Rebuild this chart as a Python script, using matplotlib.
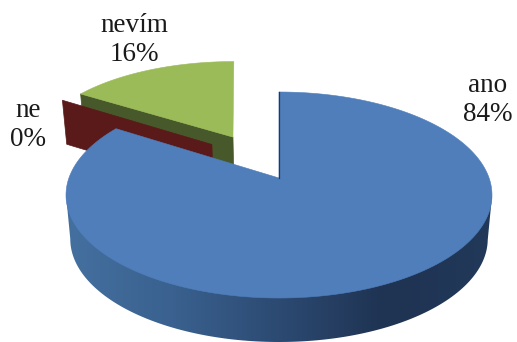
import numpy as np
import matplotlib
matplotlib.use("Agg")
import matplotlib.pyplot as plt
from matplotlib.colors import LinearSegmentedColormap
from matplotlib.patches import Polygon

categories = ["ano", "ne", "nevím"]
values = [84, 0, 16]

top_colors = ["#4f7ebb", "#5a1a1a", "#9bbb59"]
side_colors = ["#2f5078", "#5a1a1a", "#47592a"]
# Slice shift inside the pie plane, in radius units
offsets = [(0.0, 0.0), (-0.338, 0.354), (-0.235, 0.438)]
# Horizontal lean of each slice, pixels per pixel of height above its apex
leans = [0.0, 0.0, 0.07]
label_pos = {"ano": (488, 100), "ne": (28, 125), "nevím": (134, 40)}

CX, CY, RX, RY = 279, 195, 213, 103
TILT = 0.165
DEPTH = 44
BOTTOM_SCALE = 0.98

side_ramp = LinearSegmentedColormap.from_list(
    "side", ["#44709f", "#3a618f", "#2c4a72", "#1f3352", "#22395a"])


def project(x, y, lower=False):
    """Perspective view of pie-plane coordinates on the figure, in pixels."""
    x, y = np.asarray(x, float), np.asarray(y, float)
    w = 1 + TILT * y
    xp = x * np.sqrt(1 - TILT ** 2) / w
    yp = (y + TILT) / w
    scale = BOTTOM_SCALE if lower else 1.0
    return CX + RX * scale * xp, CY - RY * yp + (DEPTH if lower else 0)


def rim(start, stop, n=240):
    theta = np.linspace(start, stop, max(n, 2))
    return np.sin(theta), np.cos(theta)


fig = plt.figure(figsize=(5.17, 3.42), dpi=100, facecolor="white")
ax = fig.add_axes([0, 0, 1, 1])

fractions = np.array(values, float) / sum(values)
edges = np.concatenate([[0], np.cumsum(fractions)]) * 2 * np.pi

# Back to front: nevím, ne, ano
for i in [2, 1, 0]:
    dx, dy = offsets[i]
    rx, ry = rim(edges[i], edges[i + 1], 240 if values[i] else 2)
    rx, ry = rx + dx, ry + dy
    base = 2 + (2 - i) * 3
    _, apex_y = project(dx, dy)

    def leaned(px, py):
        return px - leans[i] * (apex_y - py), py

    # Cut face running from the apex to the start of the rim
    px, py = leaned(*project([dx, rx[0]], [dy, ry[0]]))
    qx, qy = project([dx, rx[0]], [dy, ry[0]], lower=True)
    qx, _ = leaned(qx, py)
    ax.add_patch(Polygon(np.c_[np.r_[px, qx[::-1]], np.r_[py, qy[::-1]]],
                         closed=True, fc=side_colors[i], ec=side_colors[i],
                         lw=0.5, zorder=base))

    # Outer wall of the large slice, shaded from left to right
    if i == 0:
        ux, uy = project(rx, ry)
        lx, ly = project(rx, ry, lower=True)
        right, left = np.argmax(lx), np.argmin(lx)
        outline = np.c_[
            np.r_[lx[right:left + 1], ux[np.argmin(ux)], ux[np.argmax(ux)]],
            np.r_[ly[right:left + 1], uy[np.argmin(ux)], uy[np.argmax(ux)]],
        ]
        wall = Polygon(outline, closed=True, fc="none", ec="none")
        ax.add_patch(wall)
        image = ax.imshow(np.linspace(0, 1, 256)[None, :], cmap=side_ramp,
                          extent=(66, 492, 342, 0), aspect="auto",
                          zorder=base + 1)
        image.set_clip_path(wall)

    # Top surface; a zero share has none
    if values[i] > 0:
        tx, ty = leaned(*project(np.r_[dx, rx], np.r_[dy, ry]))
        ax.add_patch(Polygon(np.c_[tx, ty], closed=True, fc=top_colors[i],
                             ec=top_colors[i], lw=0.4, zorder=base + 2))

ax.set_xlim(0, 517)
ax.set_ylim(342, 0)
ax.axis("off")

# Thin shaded edge where the large slice begins
ex, ey = project([0, 0], [0, 1])
ax.plot(ex - 0.5, ey, color="#23395a", lw=0.9, zorder=11)

for name, value in zip(categories, values):
    x, y = label_pos[name]
    ax.text(x, y, f"{name}\n{value}%", ha="center", va="center", ma="center",
            family="Liberation Serif", fontsize=19.5, color="#1a1a1a",
            linespacing=1.25, zorder=12)

fig.savefig("out.png", dpi=100, facecolor="white")
